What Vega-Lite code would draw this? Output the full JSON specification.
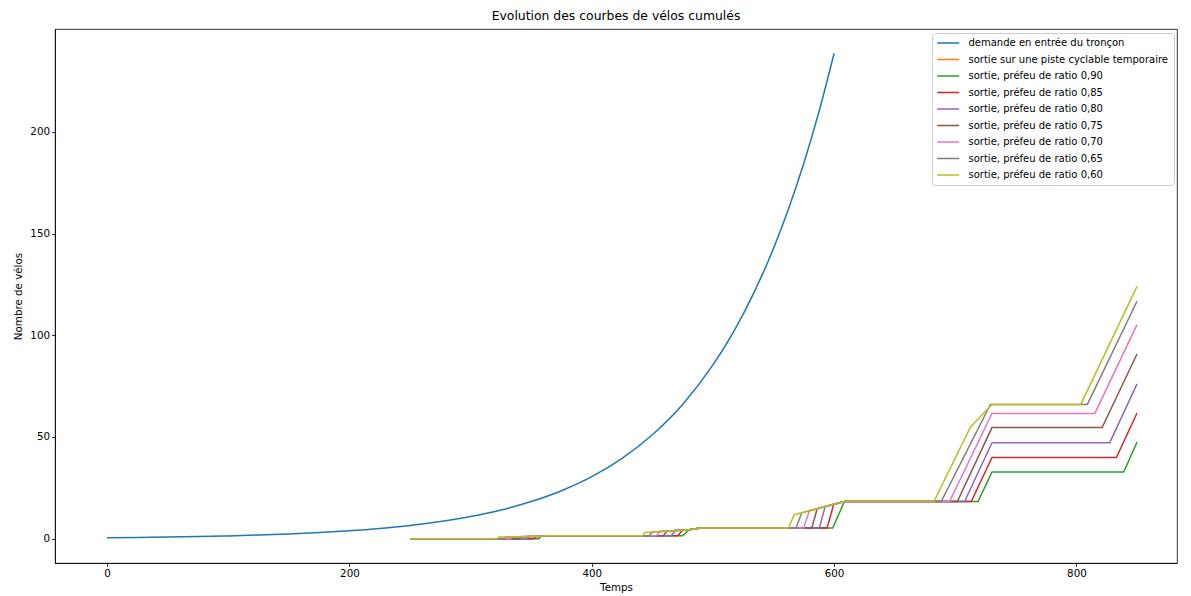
{
  "$schema": "https://vega.github.io/schema/vega-lite/v6.json",
  "width": 1122,
  "height": 534,
  "autosize": "none",
  "padding": {"left": 55, "top": 29, "right": 14, "bottom": 33},
  "background": "white",
  "config": {
    "font": "DejaVu Sans",
    "view": {"stroke": "black", "strokeWidth": 0.8},
    "axis": {
      "grid": false,
      "domainColor": "black",
      "domainWidth": 0.8,
      "tickColor": "black",
      "tickWidth": 0.8,
      "tickSize": 3.5,
      "labelColor": "black",
      "labelFontSize": 10.3,
      "labelFont": "DejaVu Sans",
      "labelPadding": 2,
      "titleColor": "black",
      "titleFont": "DejaVu Sans",
      "titleFontSize": 10.3,
      "titleFontWeight": "normal"
    }
  },
  "title": {
    "text": "Evolution des courbes de vélos cumulés",
    "font": "DejaVu Sans",
    "fontSize": 12.4,
    "fontWeight": "normal",
    "color": "black",
    "anchor": "middle",
    "offset": 7
  },
  "datasets": {
    "demand": [
      {"s": "demande en entrée du tronçon", "t": 0, "v": 0.5},
      {"s": "demande en entrée du tronçon", "t": 25, "v": 0.65},
      {"s": "demande en entrée du tronçon", "t": 50, "v": 0.84},
      {"s": "demande en entrée du tronçon", "t": 75, "v": 1.08},
      {"s": "demande en entrée du tronçon", "t": 100, "v": 1.4},
      {"s": "demande en entrée du tronçon", "t": 125, "v": 1.81},
      {"s": "demande en entrée du tronçon", "t": 150, "v": 2.34},
      {"s": "demande en entrée du tronçon", "t": 175, "v": 3.02},
      {"s": "demande en entrée du tronçon", "t": 200, "v": 3.91},
      {"s": "demande en entrée du tronçon", "t": 225, "v": 5.05},
      {"s": "demande en entrée du tronçon", "t": 250, "v": 6.53},
      {"s": "demande en entrée du tronçon", "t": 275, "v": 8.45},
      {"s": "demande en entrée du tronçon", "t": 300, "v": 10.92},
      {"s": "demande en entrée du tronçon", "t": 325, "v": 14.12},
      {"s": "demande en entrée du tronçon", "t": 350, "v": 18.26},
      {"s": "demande en entrée du tronçon", "t": 375, "v": 23.6},
      {"s": "demande en entrée du tronçon", "t": 400, "v": 30.5},
      {"s": "demande en entrée du tronçon", "t": 425, "v": 39.5},
      {"s": "demande en entrée du tronçon", "t": 450, "v": 51.1},
      {"s": "demande en entrée du tronçon", "t": 475, "v": 66.0},
      {"s": "demande en entrée du tronçon", "t": 500, "v": 85.4},
      {"s": "demande en entrée du tronçon", "t": 525, "v": 110.4},
      {"s": "demande en entrée du tronçon", "t": 550, "v": 142.7},
      {"s": "demande en entrée du tronçon", "t": 562.5, "v": 162.3},
      {"s": "demande en entrée du tronçon", "t": 575, "v": 184.5},
      {"s": "demande en entrée du tronçon", "t": 587.5, "v": 209.8},
      {"s": "demande en entrée du tronçon", "t": 600, "v": 238.6}
    ],
    "steps": [
      {"s": "sortie, préfeu de ratio 0,90", "t": 250, "v": 0},
      {"s": "sortie, préfeu de ratio 0,90", "t": 356.4, "v": 0},
      {"s": "sortie, préfeu de ratio 0,90", "t": 358, "v": 1.2},
      {"s": "sortie, préfeu de ratio 0,90", "t": 362, "v": 1.5},
      {"s": "sortie, préfeu de ratio 0,90", "t": 475, "v": 1.5},
      {"s": "sortie, préfeu de ratio 0,90", "t": 480.4, "v": 4.4},
      {"s": "sortie, préfeu de ratio 0,90", "t": 490, "v": 5.3},
      {"s": "sortie, préfeu de ratio 0,90", "t": 598.9, "v": 5.3},
      {"s": "sortie, préfeu de ratio 0,90", "t": 608.5, "v": 18.3},
      {"s": "sortie, préfeu de ratio 0,90", "t": 718.8, "v": 18.3},
      {"s": "sortie, préfeu de ratio 0,90", "t": 730.3, "v": 32.8},
      {"s": "sortie, préfeu de ratio 0,90", "t": 839, "v": 32.8},
      {"s": "sortie, préfeu de ratio 0,90", "t": 850, "v": 47.5},

      {"s": "sortie, préfeu de ratio 0,85", "t": 250, "v": 0},
      {"s": "sortie, préfeu de ratio 0,85", "t": 352.3, "v": 0},
      {"s": "sortie, préfeu de ratio 0,85", "t": 354, "v": 1.15},
      {"s": "sortie, préfeu de ratio 0,85", "t": 358, "v": 1.2},
      {"s": "sortie, préfeu de ratio 0,85", "t": 362, "v": 1.5},
      {"s": "sortie, préfeu de ratio 0,85", "t": 471, "v": 1.5},
      {"s": "sortie, préfeu de ratio 0,85", "t": 474.9, "v": 4.21},
      {"s": "sortie, préfeu de ratio 0,85", "t": 480.4, "v": 4.4},
      {"s": "sortie, préfeu de ratio 0,85", "t": 490, "v": 5.3},
      {"s": "sortie, préfeu de ratio 0,85", "t": 594.2, "v": 5.3},
      {"s": "sortie, préfeu de ratio 0,85", "t": 599.7, "v": 16.92},
      {"s": "sortie, préfeu de ratio 0,85", "t": 608.5, "v": 18.3},
      {"s": "sortie, préfeu de ratio 0,85", "t": 713.2, "v": 18.3},
      {"s": "sortie, préfeu de ratio 0,85", "t": 730.3, "v": 39.9},
      {"s": "sortie, préfeu de ratio 0,85", "t": 833, "v": 39.9},
      {"s": "sortie, préfeu de ratio 0,85", "t": 850, "v": 61.8},

      {"s": "sortie, préfeu de ratio 0,80", "t": 250, "v": 0},
      {"s": "sortie, préfeu de ratio 0,80", "t": 346.3, "v": 0},
      {"s": "sortie, préfeu de ratio 0,80", "t": 348, "v": 1.08},
      {"s": "sortie, préfeu de ratio 0,80", "t": 358, "v": 1.2},
      {"s": "sortie, préfeu de ratio 0,80", "t": 362, "v": 1.5},
      {"s": "sortie, préfeu de ratio 0,80", "t": 465.5, "v": 1.5},
      {"s": "sortie, préfeu de ratio 0,80", "t": 469.1, "v": 4.0},
      {"s": "sortie, préfeu de ratio 0,80", "t": 480.4, "v": 4.4},
      {"s": "sortie, préfeu de ratio 0,80", "t": 490, "v": 5.3},
      {"s": "sortie, préfeu de ratio 0,80", "t": 587.9, "v": 5.3},
      {"s": "sortie, préfeu de ratio 0,80", "t": 592.6, "v": 15.8},
      {"s": "sortie, préfeu de ratio 0,80", "t": 608.5, "v": 18.3},
      {"s": "sortie, préfeu de ratio 0,80", "t": 707.7, "v": 18.3},
      {"s": "sortie, préfeu de ratio 0,80", "t": 730.3, "v": 47.2},
      {"s": "sortie, préfeu de ratio 0,80", "t": 827.5, "v": 47.2},
      {"s": "sortie, préfeu de ratio 0,80", "t": 850, "v": 76.1},

      {"s": "sortie, préfeu de ratio 0,75", "t": 250, "v": 0},
      {"s": "sortie, préfeu de ratio 0,75", "t": 339.9, "v": 0},
      {"s": "sortie, préfeu de ratio 0,75", "t": 341.6, "v": 1.01},
      {"s": "sortie, préfeu de ratio 0,75", "t": 358, "v": 1.2},
      {"s": "sortie, préfeu de ratio 0,75", "t": 362, "v": 1.5},
      {"s": "sortie, préfeu de ratio 0,75", "t": 459, "v": 1.5},
      {"s": "sortie, préfeu de ratio 0,75", "t": 462.2, "v": 3.75},
      {"s": "sortie, préfeu de ratio 0,75", "t": 480.4, "v": 4.4},
      {"s": "sortie, préfeu de ratio 0,75", "t": 490, "v": 5.3},
      {"s": "sortie, préfeu de ratio 0,75", "t": 581.6, "v": 5.3},
      {"s": "sortie, préfeu de ratio 0,75", "t": 586, "v": 14.76},
      {"s": "sortie, préfeu de ratio 0,75", "t": 608.5, "v": 18.3},
      {"s": "sortie, préfeu de ratio 0,75", "t": 701.7, "v": 18.3},
      {"s": "sortie, préfeu de ratio 0,75", "t": 730.3, "v": 54.6},
      {"s": "sortie, préfeu de ratio 0,75", "t": 821.2, "v": 54.6},
      {"s": "sortie, préfeu de ratio 0,75", "t": 850, "v": 90.8},

      {"s": "sortie, préfeu de ratio 0,70", "t": 250, "v": 0},
      {"s": "sortie, préfeu de ratio 0,70", "t": 333, "v": 0},
      {"s": "sortie, préfeu de ratio 0,70", "t": 334.7, "v": 0.93},
      {"s": "sortie, préfeu de ratio 0,70", "t": 358, "v": 1.2},
      {"s": "sortie, préfeu de ratio 0,70", "t": 362, "v": 1.5},
      {"s": "sortie, préfeu de ratio 0,70", "t": 453.4, "v": 1.5},
      {"s": "sortie, préfeu de ratio 0,70", "t": 456.3, "v": 3.54},
      {"s": "sortie, préfeu de ratio 0,70", "t": 480.4, "v": 4.4},
      {"s": "sortie, préfeu de ratio 0,70", "t": 490, "v": 5.3},
      {"s": "sortie, préfeu de ratio 0,70", "t": 574.9, "v": 5.3},
      {"s": "sortie, préfeu de ratio 0,70", "t": 579.6, "v": 13.75},
      {"s": "sortie, préfeu de ratio 0,70", "t": 608.5, "v": 18.3},
      {"s": "sortie, préfeu de ratio 0,70", "t": 695.3, "v": 18.3},
      {"s": "sortie, préfeu de ratio 0,70", "t": 730.3, "v": 61.6},
      {"s": "sortie, préfeu de ratio 0,70", "t": 815.2, "v": 61.6},
      {"s": "sortie, préfeu de ratio 0,70", "t": 850, "v": 105.2},

      {"s": "sortie, préfeu de ratio 0,65", "t": 250, "v": 0},
      {"s": "sortie, préfeu de ratio 0,65", "t": 327.5, "v": 0},
      {"s": "sortie, préfeu de ratio 0,65", "t": 329.2, "v": 0.87},
      {"s": "sortie, préfeu de ratio 0,65", "t": 358, "v": 1.2},
      {"s": "sortie, préfeu de ratio 0,65", "t": 362, "v": 1.5},
      {"s": "sortie, préfeu de ratio 0,65", "t": 447.5, "v": 1.5},
      {"s": "sortie, préfeu de ratio 0,65", "t": 450.1, "v": 3.32},
      {"s": "sortie, préfeu de ratio 0,65", "t": 480.4, "v": 4.4},
      {"s": "sortie, préfeu de ratio 0,65", "t": 490, "v": 5.3},
      {"s": "sortie, préfeu de ratio 0,65", "t": 568.6, "v": 5.3},
      {"s": "sortie, préfeu de ratio 0,65", "t": 573.3, "v": 12.76},
      {"s": "sortie, préfeu de ratio 0,65", "t": 608.5, "v": 18.3},
      {"s": "sortie, préfeu de ratio 0,65", "t": 688.4, "v": 18.3},
      {"s": "sortie, préfeu de ratio 0,65", "t": 729, "v": 66},
      {"s": "sortie, préfeu de ratio 0,65", "t": 809, "v": 66},
      {"s": "sortie, préfeu de ratio 0,65", "t": 850, "v": 116.7},

      {"s": "sortie, préfeu de ratio 0,60", "t": 250, "v": 0},
      {"s": "sortie, préfeu de ratio 0,60", "t": 322, "v": 0},
      {"s": "sortie, préfeu de ratio 0,60", "t": 323.5, "v": 0.8},
      {"s": "sortie, préfeu de ratio 0,60", "t": 358, "v": 1.2},
      {"s": "sortie, préfeu de ratio 0,60", "t": 362, "v": 1.5},
      {"s": "sortie, préfeu de ratio 0,60", "t": 441.9, "v": 1.5},
      {"s": "sortie, préfeu de ratio 0,60", "t": 443.8, "v": 3.1},
      {"s": "sortie, préfeu de ratio 0,60", "t": 480.4, "v": 4.4},
      {"s": "sortie, préfeu de ratio 0,60", "t": 490, "v": 5.3},
      {"s": "sortie, préfeu de ratio 0,60", "t": 562.2, "v": 5.3},
      {"s": "sortie, préfeu de ratio 0,60", "t": 567.2, "v": 11.8},
      {"s": "sortie, préfeu de ratio 0,60", "t": 608.5, "v": 18.3},
      {"s": "sortie, préfeu de ratio 0,60", "t": 682.4, "v": 18.3},
      {"s": "sortie, préfeu de ratio 0,60", "t": 712.6, "v": 54.9},
      {"s": "sortie, préfeu de ratio 0,60", "t": 730.3, "v": 66},
      {"s": "sortie, préfeu de ratio 0,60", "t": 803.6, "v": 66},
      {"s": "sortie, préfeu de ratio 0,60", "t": 850, "v": 124}
    ]
  },
  "encoding": {
    "x": {
      "field": "t",
      "type": "quantitative",
      "scale": {"domain": [-43, 883], "nice": false, "zero": false},
      "axis": {"title": "Temps", "values": [0, 200, 400, 600, 800], "titlePadding": 4}
    },
    "y": {
      "field": "v",
      "type": "quantitative",
      "scale": {"domain": [-11.93, 250.5], "nice": false, "zero": false},
      "axis": {"title": "Nombre de vélos", "values": [0, 50, 100, 150, 200], "titlePadding": 6}
    },
    "color": {
      "field": "s",
      "type": "nominal",
      "scale": {
        "domain": [
          "demande en entrée du tronçon",
          "sortie sur une piste cyclable temporaire",
          "sortie, préfeu de ratio 0,90",
          "sortie, préfeu de ratio 0,85",
          "sortie, préfeu de ratio 0,80",
          "sortie, préfeu de ratio 0,75",
          "sortie, préfeu de ratio 0,70",
          "sortie, préfeu de ratio 0,65",
          "sortie, préfeu de ratio 0,60"
        ],
        "range": ["#1f77b4", "#ff7f0e", "#2ca02c", "#d62728", "#9467bd", "#8c564b", "#e377c2", "#7f7f7f", "#bcbd22"]
      },
      "legend": {
        "title": null,
        "orient": "none",
        "legendX": 877,
        "legendY": 4,
        "fillColor": "white",
        "strokeColor": "#cccccc",
        "cornerRadius": 3,
        "padding": 5,
        "symbolType": "M-1.2,0H4.3",
        "symbolSize": 64,
        "symbolStrokeWidth": 1.5,
        "labelFontSize": 10,
        "labelFont": "DejaVu Sans",
        "labelColor": "black",
        "labelOffset": 21.5,
        "labelLimit": 400,
        "rowPadding": 6.5
      }
    }
  },
  "layer": [
    {
      "data": {"name": "demand"},
      "mark": {"type": "line", "interpolate": "monotone", "strokeWidth": 1.5}
    },
    {
      "data": {"name": "steps"},
      "mark": {"type": "line", "strokeWidth": 1.5}
    }
  ]
}
